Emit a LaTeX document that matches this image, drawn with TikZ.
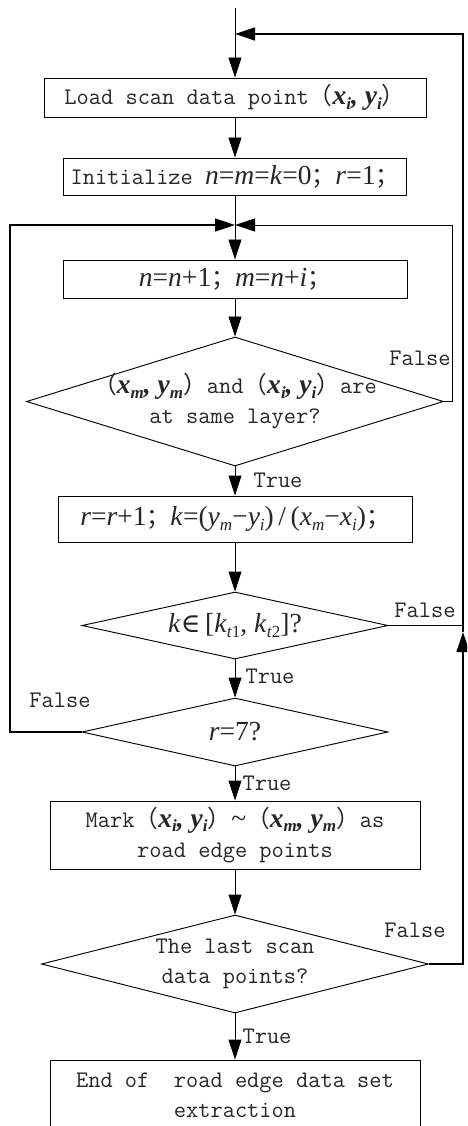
\documentclass[tikz,border=0pt]{standalone}
\usepackage{fontspec}
\newfontfamily\srf{Liberation Serif}[Scale=1.16]
\newfontfamily\cjkf{Noto Sans CJK SC}
\newfontfamily\djvs{DejaVu Serif}[Scale=1.12]
\usetikzlibrary{arrows.meta,shapes.geometric}
\newcommand\lp{{\cjkf （}}
\newcommand\rp{{\cjkf ）}}
\newcommand\sm{{\cjkf ；}}
\newcommand\sbs[1]{\raisebox{-0.35ex}{\fontsize{11}{11}\selectfont #1}}
\newcommand\bvar[2]{{\srf\bfseries\itshape #1\sbs{#2}}}
\newcommand\ivar[2]{{\srf\itshape #1\sbs{#2}}}
\newcommand\bcm{{\srf\bfseries\itshape ,\ }}
\newcommand\mth[1]{{\srf #1}}
\tikzset{
  base/.style={inner sep=0pt, align=center, text=black!85, font=\ttfamily\fontsize{17.8}{22.5}\selectfont},
  box/.style={base, draw=black, rectangle, line width=0.7pt},
  dia/.style={draw=black, diamond, inner sep=0pt, line width=0.7pt},
  lbl/.style={base},
  conn/.style={line width=0.7pt, draw=black},
  arr/.style={conn, -{Triangle[length=15pt,width=9.75pt]}},
}
\begin{document}
\begin{tikzpicture}[x=0.75pt,y=-0.75pt]
\path[use as bounding box] (0,0) rectangle (467,1126);
\clip (0,0) rectangle (467,1126);

% nodes
\node[box, minimum width=286.5pt, minimum height=29.25pt] (b1) at (235,97.5)
  {Load scan data point\lp\bvar{x}{i}\bcm\bvar{y}{i}\rp};
\node[box, minimum width=257.25pt, minimum height=27.75pt] (b2) at (235,176.5)
  {Initialize \mth{\textit{n}=\textit{m}=\textit{k}=0}\sm\mth{\textit{r}=1}\sm};
\node[box, minimum width=258pt, minimum height=28.5pt] (b3) at (235,279)
  {\mth{\textit{n}=\textit{n}+1}\sm\mth{\textit{m}=\textit{n}+\textit{i}}\sm};
\node[dia, minimum width=312.75pt, minimum height=96.75pt] (d1) at (235,401.5) {};
\node[base] (d1t) at (d1.center)
  {\lp\bvar{x}{m}\bcm\bvar{y}{m}\rp and\lp\bvar{x}{i}\bcm\bvar{y}{i}\rp are\\at same layer?};
\node[box, minimum width=265.5pt, minimum height=34.5pt] (b4) at (235,519)
  {\mth{\textit{r}=\textit{r}+1}\sm\mth{\textit{k}=(\ivar{y}{m}−\ivar{y}{i})\,/\,(\ivar{x}{m}−\ivar{x}{i})}\sm};
\node[dia, minimum width=229.5pt, minimum height=50.25pt] (d2) at (235,625.5) {};
\node[base] (d2t) at (d2.center)
  {\mth{\textit{k}{\djvs ∈}\,[\textit{k}\sbs{\textit{t}1}, \textit{k}\sbs{\textit{t}2}]?}};
\node[dia, minimum width=229.5pt, minimum height=51pt] (d3) at (235,732) {};
\node[base] (d3t) at (d3.center) {\mth{\textit{r}=7?}};
\node[box, minimum width=277.5pt, minimum height=51pt] (b5) at (235,835)
  {Mark\lp\bvar{x}{i}\bcm\bvar{y}{i}\rp{\srf\textasciitilde}\lp\bvar{x}{m}\bcm\bvar{y}{m}\rp as\\road edge points};
\node[dia, minimum width=290.25pt, minimum height=73.5pt] (d4) at (235,964) {};
\node[base] (d4t) at (d4.center) {The last scan\\data points?};
\node[draw=black, line width=0.7pt, rectangle, minimum width=277.5pt, minimum height=60pt, inner sep=0pt] (b6) at (235,1100) {};
\node[base] (b6t) at (235,1095) {End of\ \ road edge data set\\extraction};

% helper coordinates
\coordinate (st) at (235,8);
\coordinate (m1) at (235,34);
\coordinate (m2) at (235,225);
\coordinate (rt) at (463,34);
\coordinate (j2) at (463,632);
\coordinate (r2) at (452,225);
\coordinate (l2) at (10,225);

% connectors
\draw[arr] (st) -- (b1.north);
\draw[arr] (b1.south) -- (b2.north);
\draw[arr] (b2.south) -- (b3.north);
\draw[arr] (b3.south) -- (d1.north);
\draw[arr] (d1.south) -- (b4.north);
\draw[arr] (b4.south) -- (d2.north);
\draw[arr] (d2.south) -- (d3.north);
\draw[arr] (d3.south) -- (b5.north);
\draw[arr] (b5.south) -- (d4.north);
\draw[arr] (d4.south) -- (b6.north);

\draw[arr] (d1.east) -| (r2) -- (m2);
\draw[arr, line width=1.3pt] (d3.west) -| (l2) -- (m2);
\draw[arr, line width=1pt] (d4.east) -| (j2);
\draw[arr, line width=1pt] (j2) |- (m1);
\draw[conn] (d2.east) -- (d2.east -| j2);

% labels
\node[lbl] (f1) at (420,358) {False};
\node[lbl] (t1) at (278,480) {True};
\node[lbl] (f2) at (425,610) {False};
\node[lbl] (t2) at (270,676) {True};
\node[lbl] (f3) at (60,700) {False};
\node[lbl] (t3) at (267,783) {True};
\node[lbl] (f4) at (415,930) {False};
\node[lbl] (t4) at (267,1036) {True};
\end{tikzpicture}
\end{document}
